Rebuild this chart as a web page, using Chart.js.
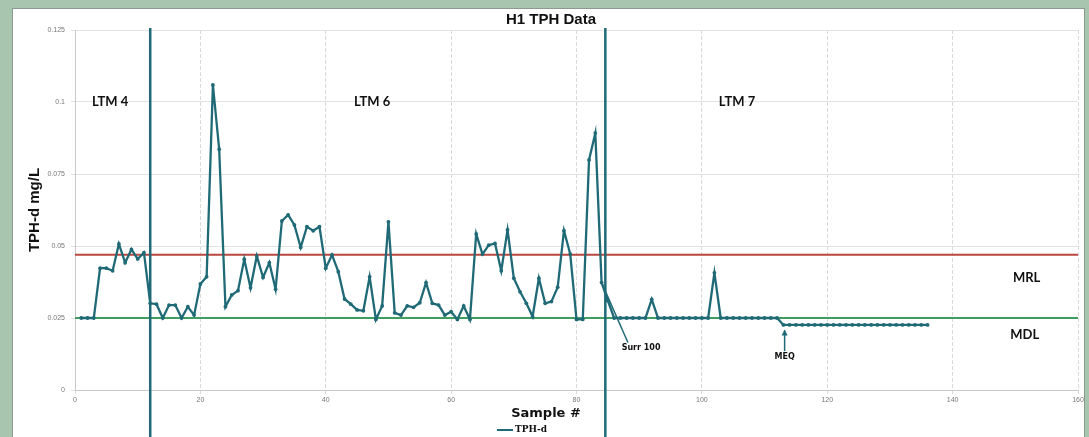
<!DOCTYPE html>
<html>
<head>
<meta charset="utf-8">
<title>H1 TPH Data</title>
<script src="https://cdn.jsdelivr.net/npm/chart.js@4.4.1/dist/chart.umd.min.js"></script>
<style>
  html, body { margin: 0; padding: 0; background: #a8c6af; overflow: hidden; }
  #wrap { width: 1089px; height: 437px; position: relative; }
</style>
</head>
<body>
<div id="wrap"><canvas id="tphChart" width="1089" height="437"></canvas></div>
<script>
// TPH-d results (mg/L) by sampling event, sample # starts at 1
const tphLtm4 = [0.025, 0.025, 0.025, 0.0423, 0.0423, 0.0414, 0.0507, 0.0442, 0.0488, 0.0455, 0.0477];
const tphLtm6 = [
  0.0301, 0.0298, 0.025, 0.0295, 0.0295, 0.025, 0.0289, 0.026, 0.0368, 0.0393,
  0.1059, 0.0836, 0.0289, 0.033, 0.0345, 0.0454, 0.0355, 0.0465, 0.0391, 0.0442,
  0.035, 0.0587, 0.0608, 0.0573, 0.0495, 0.0567, 0.0553, 0.0567, 0.0423, 0.0469,
  0.0411, 0.0316, 0.0298, 0.0278, 0.0275, 0.0393, 0.0245, 0.0292, 0.0584, 0.0268,
  0.026, 0.0292, 0.0287, 0.0303, 0.0373, 0.0301, 0.0295, 0.026, 0.0272, 0.0245,
  0.0292, 0.0245, 0.0542, 0.0472, 0.0503, 0.0509, 0.0414, 0.0556, 0.0388, 0.0341,
  0.0301, 0.0255, 0.0388, 0.0301, 0.0307, 0.0357, 0.0553, 0.0472, 0.0245, 0.0245,
  0.0799, 0.0892, 0.0373
];
const tphLtm7 = [
  0.031, 0.025, 0.025, 0.025, 0.025, 0.025, 0.025, 0.0315, 0.025, 0.025,
  0.025, 0.025, 0.025, 0.025, 0.025, 0.025, 0.025, 0.0407, 0.025, 0.025,
  0.025, 0.025, 0.025, 0.025, 0.025, 0.025, 0.025, 0.025
];
const tphMeq = [
  0.0226, 0.0226, 0.0226, 0.0226, 0.0226, 0.0226, 0.0226, 0.0226, 0.0226, 0.0226, 0.0226, 0.0226,
  0.0226, 0.0226, 0.0226, 0.0226, 0.0226, 0.0226, 0.0226, 0.0226, 0.0226, 0.0226, 0.0226, 0.0226
];

const MRL = 0.047;
const MDL = 0.025;
// sample # where each monitoring period starts
const periodBreaks = [12, 84.6];

const periodLabels = [
  { text: "LTM 4", x: 5.6, y: 0.1 },
  { text: "LTM 6", x: 47.4, y: 0.1 },
  { text: "LTM 7", x: 105.6, y: 0.1 }
];
const lineLabels = [
  { text: "MRL", x: 151.8, y: 0.0389 },
  { text: "MDL", x: 151.5, y: 0.0191 }
];

const TEAL = "#1f6a76";
const RED = "#b9473f";
const GREEN = "#3f9e5f";

const allValues = tphLtm4.concat(tphLtm6, tphLtm7, tphMeq);
const points = allValues.map((v, i) => ({ x: i + 1, y: v }));

const decorations = {
  id: "decorations",
  beforeDraw(chart) {
    const c = chart.ctx;
    c.save();
    c.fillStyle = "#ffffff";
    c.fillRect(12, 8, 1073, 440);
    c.strokeStyle = "#8a9a8e";
    c.lineWidth = 1;
    c.strokeRect(12.5, 8.5, 1072, 440);
    c.restore();
  },
  beforeDatasetsDraw(chart) {
    const { ctx: c, chartArea: a, scales: { y } } = chart;
    c.save();
    c.lineWidth = 2;
    c.strokeStyle = RED;
    c.beginPath();
    c.moveTo(a.left, y.getPixelForValue(MRL));
    c.lineTo(a.right, y.getPixelForValue(MRL));
    c.stroke();
    c.strokeStyle = GREEN;
    c.beginPath();
    c.moveTo(a.left, y.getPixelForValue(MDL));
    c.lineTo(a.right, y.getPixelForValue(MDL));
    c.stroke();
    c.restore();
  },
  afterDatasetsDraw(chart) {
    const { ctx: c, scales: { x, y } } = chart;
    c.save();
    // period dividers run past the plot area
    c.strokeStyle = TEAL;
    c.lineWidth = 2.5;
    periodBreaks.forEach(s => {
      const px = x.getPixelForValue(s);
      c.beginPath();
      c.moveTo(px, 28);
      c.lineTo(px, chart.height);
      c.stroke();
    });

    // Surr 100 leader
    c.lineWidth = 1.5;
    c.beginPath();
    c.moveTo(x.getPixelForValue(84), y.getPixelForValue(0.0373));
    c.lineTo(x.getPixelForValue(88.2), y.getPixelForValue(0.0165));
    c.stroke();

    // MEQ arrow
    const mx = x.getPixelForValue(113.2);
    const top = y.getPixelForValue(0.0207);
    c.beginPath();
    c.moveTo(mx, y.getPixelForValue(0.0135));
    c.lineTo(mx, top);
    c.stroke();
    c.fillStyle = TEAL;
    c.beginPath();
    c.moveTo(mx, top - 1);
    c.lineTo(mx - 3, top + 5);
    c.lineTo(mx + 3, top + 5);
    c.closePath();
    c.fill();
    c.restore();
  },
  afterDraw(chart) {
    const { ctx: c, scales: { x, y } } = chart;
    c.save();
    c.fillStyle = "#111";
    c.textAlign = "center";
    c.textBaseline = "middle";

    c.font = "bold 15px 'Liberation Sans', Arial, sans-serif";
    c.fillText("H1 TPH Data", 551, 20);

    c.font = "bold 13px Lato, 'Liberation Sans', sans-serif";
    periodLabels.concat(lineLabels).forEach(l => {
      c.fillText(l.text, x.getPixelForValue(l.x), y.getPixelForValue(l.y));
    });

    c.font = "bold 8px 'DejaVu Sans', sans-serif";
    c.fillText("Surr 100", x.getPixelForValue(90.3), y.getPixelForValue(0.0146));
    c.fillText("MEQ", x.getPixelForValue(113.2), y.getPixelForValue(0.0115));

    c.font = "bold 13px 'DejaVu Sans', sans-serif";
    c.fillText("Sample #", 546, 414);

    // legend
    c.strokeStyle = TEAL;
    c.lineWidth = 2;
    c.beginPath();
    c.moveTo(497, 430);
    c.lineTo(513, 430);
    c.stroke();
    c.textAlign = "left";
    c.font = "bold 9px 'DejaVu Serif', serif";
    c.fillText("TPH-d", 515, 430);

    c.translate(35, 210);
    c.rotate(-Math.PI / 2);
    c.textAlign = "center";
    c.font = "bold 15px 'Liberation Sans Narrow', 'Liberation Sans', sans-serif";
    c.fillText("TPH-d mg/L", 0, 0);
    c.restore();
  }
};

new Chart(document.getElementById("tphChart"), {
  type: "line",
  data: {
    datasets: [{
      label: "TPH-d",
      data: points,
      borderColor: TEAL,
      backgroundColor: TEAL,
      borderWidth: 2.3,
      pointRadius: 1.9,
      pointBackgroundColor: TEAL,
      pointBorderWidth: 0,
      tension: 0,
      fill: false
    }]
  },
  options: {
    responsive: false,
    animation: false,
    layout: { padding: { top: 30, right: 11, left: 0, bottom: 0 } },
    plugins: {
      legend: { display: false },
      tooltip: { enabled: false }
    },
    scales: {
      x: {
        type: "linear",
        min: 0,
        max: 160,
        ticks: { stepSize: 20, font: { size: 7 }, color: "#777", padding: 2 },
        grid: { color: "#d9d9d9", tickLength: 4 },
        border: { color: "#c8c8c8", dash: [4, 2] },
        afterFit(s) { s.height = 47; }
      },
      y: {
        min: 0,
        max: 0.125,
        ticks: {
          stepSize: 0.025,
          font: { size: 7 },
          color: "#777",
          padding: 6,
          callback: v => String(+v.toFixed(3))
        },
        grid: { color: "#e2e2e2", tickLength: 4 },
        border: { color: "#c8c8c8" },
        afterFit(s) { s.width = 75; }
      }
    }
  },
  plugins: [decorations]
});
</script>
</body>
</html>
